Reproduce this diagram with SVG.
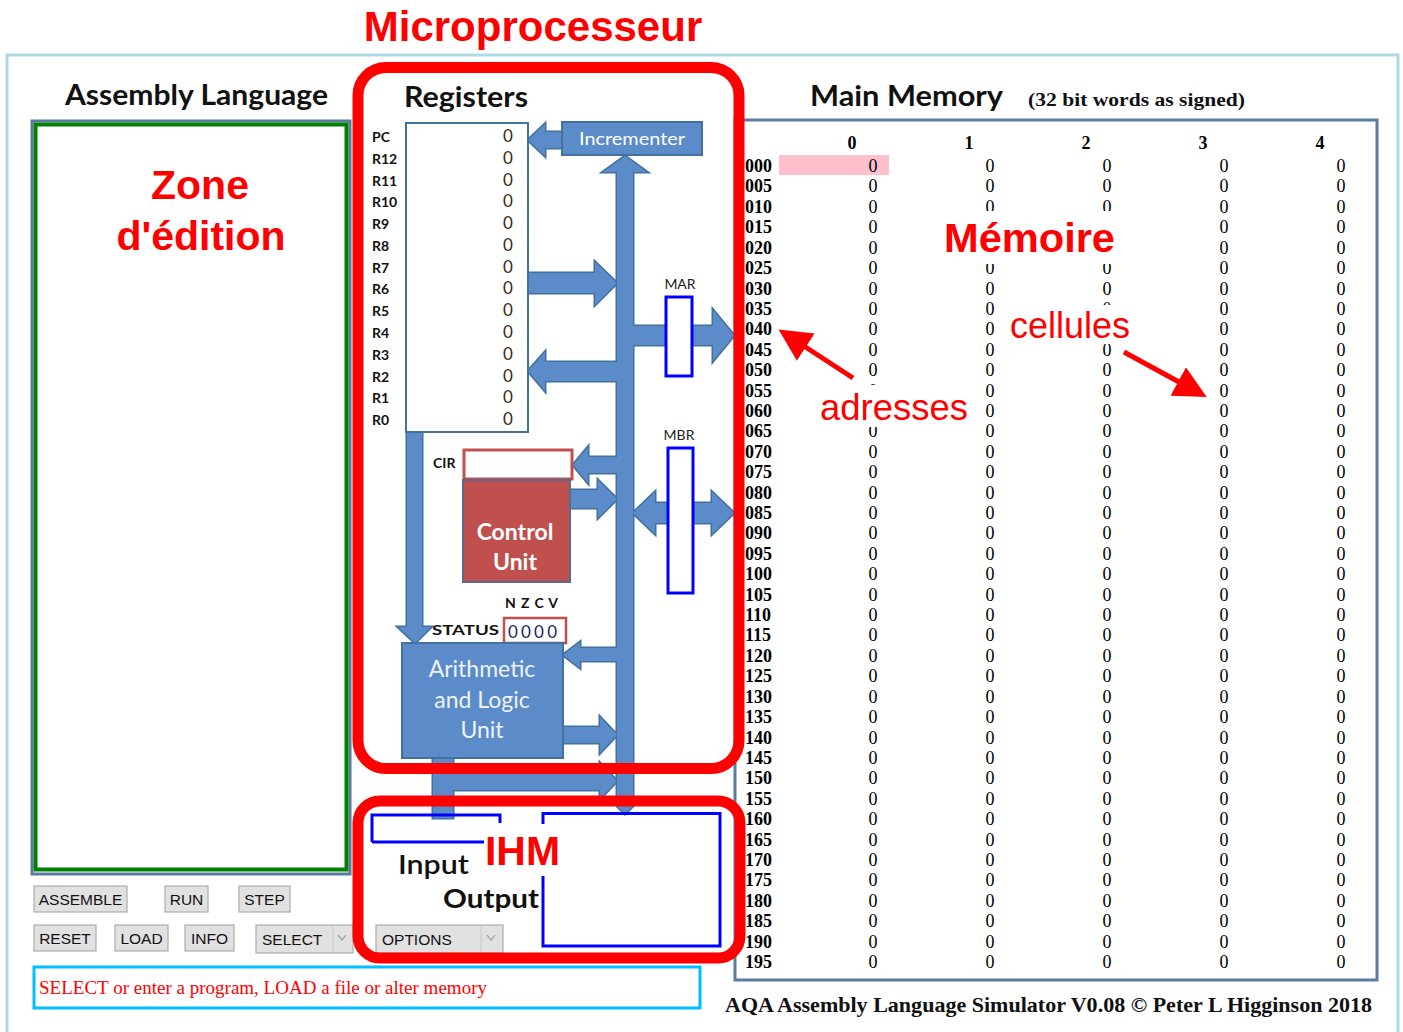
<svg xmlns="http://www.w3.org/2000/svg" xmlns:xlink="http://www.w3.org/1999/xlink" width="1403" height="1032" viewBox="0 0 1403 1032">
<style>
.ui{font-family:Lato,"Open Sans","Liberation Sans",sans-serif}
.h{font-family:Lato,"Open Sans","Liberation Sans",sans-serif;font-weight:700;font-size:28px;fill:#111}
.red{font-family:"Liberation Sans",Arial,sans-serif;fill:#ff0000}
.rl{font-family:Lato,"Liberation Sans",sans-serif;font-weight:700;font-size:14px;fill:#111}
.rv{font-family:Lato,"Liberation Sans",sans-serif;font-size:17px;fill:#3a2a10;text-anchor:middle}
.a{font-family:"Liberation Serif","Times New Roman",serif;font-weight:700;font-size:18px;fill:#000}
.v{font-family:"Liberation Serif","Times New Roman",serif;font-size:18px;fill:#000;text-anchor:middle}
.btn{fill:#e1e1e1;stroke:#adadad;stroke-width:1.2}
.bt{font-family:"Liberation Sans",Arial,sans-serif;font-size:15.5px;fill:#111}
.bluebox{fill:#5b8bc9;stroke:#41719c;stroke-width:2}
.mbox{fill:#fff;stroke:#0000ff;stroke-width:3}
.redrect{fill:none;stroke:#ff0000;stroke-width:11}
.arr{stroke:#ff0000;stroke-width:5;fill:none}
</style>
<defs>
<g id="busShapes">
<polygon points="617,806 617,172 603,172 625,156 647,172 633,172 633,806 625,814"/>
<polygon points="528,273 595,273 595,262 617,283 595,305 595,293 528,293"/>
<polygon points="633,326 713,326 713,310 734,335.5 713,361 713,345 633,345"/>
<polygon points="617,362 545,362 545,352 528,371 545,391 545,381 617,381"/>
<polygon points="562,132 545,132 545,124 528,140 545,156 545,148 562,148"/>
<polygon points="617,457 588,457 588,447 573,465 588,483 588,473 617,473"/>
<polygon points="570,490 598,490 598,480 617,499 598,518 598,508 570,508"/>
<polygon points="633,513 655,492 655,503 712,503 712,492 734,513 712,534 712,523 655,523 655,534"/>
<polygon points="407,432 422,432 422,627 431,627 415,643 398,627 407,627"/>
<polygon points="617,648 580,648 580,642 563,655 580,668 580,661 617,661"/>
<polygon points="563,727 600,727 600,717 617,735 600,753 600,743 563,743"/>
<polygon points="433,757 453,757 453,773 600,773 600,763 617,781 600,799 600,790 453,790 453,818 433,818"/>
</g>
<marker id="rh" viewBox="0 0 10 10" refX="8" refY="5" markerWidth="6.5" markerHeight="6.5" orient="auto" markerUnits="strokeWidth">
<path d="M0,0 L10,5 L0,10 z" fill="#ff0000"/>
</marker>
</defs>

<rect x="0" y="0" width="1403" height="1032" fill="#fff"/>
<rect x="7" y="55" width="1391" height="1000" fill="none" stroke="#add8e6" stroke-width="3"/>

<!-- Titles -->
<text class="red" x="533" y="41" font-size="42" font-weight="700" text-anchor="middle">Microprocesseur</text>
<text class="h" x="65" y="105" textLength="263" lengthAdjust="spacingAndGlyphs">Assembly Language</text>
<text class="h" x="404" y="107" textLength="124" lengthAdjust="spacingAndGlyphs">Registers</text>
<text class="h" x="810" y="106" textLength="193" lengthAdjust="spacingAndGlyphs">Main Memory</text>
<text x="1028" y="106" font-family="Liberation Serif,serif" font-weight="700" font-size="19" fill="#111" textLength="217" lengthAdjust="spacingAndGlyphs">(32 bit words as signed)</text>

<!-- Editor -->
<g id="editor">
<rect x="32" y="121" width="318" height="753" fill="#fff" stroke="#5b7aa0" stroke-width="3"/>
<rect x="35.5" y="124.5" width="311" height="745" fill="#fff" stroke="#008000" stroke-width="4"/>
<text class="red" x="200" y="199" font-size="41" font-weight="700" text-anchor="middle">Zone</text>
<text class="red" x="201" y="250" font-size="41" font-weight="700" text-anchor="middle">d'édition</text>
</g>

<!-- Buttons -->
<g id="buttons">
<rect class="btn" x="34" y="886" width="93" height="26"/><text class="bt" x="80.5" y="905" text-anchor="middle">ASSEMBLE</text>
<rect class="btn" x="165" y="886" width="43" height="26"/><text class="bt" x="186.5" y="905" text-anchor="middle">RUN</text>
<rect class="btn" x="239" y="886" width="51" height="26"/><text class="bt" x="264.5" y="905" text-anchor="middle">STEP</text>
<rect class="btn" x="34" y="925" width="62" height="26"/><text class="bt" x="65" y="944" text-anchor="middle">RESET</text>
<rect class="btn" x="115" y="925" width="53" height="26"/><text class="bt" x="141.5" y="944" text-anchor="middle">LOAD</text>
<rect class="btn" x="185" y="925" width="49" height="26"/><text class="bt" x="209.5" y="944" text-anchor="middle">INFO</text>
<rect class="btn" x="256" y="925" width="97" height="28"/><line x1="333" y1="926" x2="333" y2="952" stroke="#c8c8c8"/>
<text class="bt" x="262" y="945">SELECT</text>
<path d="M338,935 L342,940 L346,935" fill="none" stroke="#999" stroke-width="1.2"/>
<rect class="btn" x="376" y="925" width="127" height="28"/><line x1="481" y1="926" x2="481" y2="952" stroke="#c8c8c8"/>
<text class="bt" x="382" y="945">OPTIONS</text>
<path d="M487,935 L491,940 L495,935" fill="none" stroke="#999" stroke-width="1.2"/>
</g>

<!-- Status message -->
<g id="message">
<rect x="34" y="967" width="666" height="41" fill="#fff" stroke="#00bfff" stroke-width="3"/>
<text x="39" y="994" font-family="Liberation Serif,serif" font-size="19" fill="#ff0000" textLength="448" lengthAdjust="spacingAndGlyphs">SELECT or enter a program, LOAD a file or alter memory</text>
</g>

<!-- Memory -->
<g id="memory">
<rect x="735" y="120" width="642" height="860" fill="#fff" stroke="#5b7aa0" stroke-width="3"/>
<rect x="779" y="155" width="110" height="20" fill="#ffc0cb"/>
<text class="a" text-anchor="middle" x="852 969 1086 1203 1320" y="149">01234</text>
<text class="a" x="745" y="172">000</text><text class="v" x="873 990 1107 1224 1341" y="172">00000</text>
<text class="a" x="745" y="192.4">005</text><text class="v" x="873 990 1107 1224 1341" y="192.4">00000</text>
<text class="a" x="745" y="212.8">010</text><text class="v" x="873 990 1107 1224 1341" y="212.8">00000</text>
<text class="a" x="745" y="233.2">015</text><text class="v" x="873 1224 1341" y="233.2">000</text>
<text class="a" x="745" y="253.6">020</text><text class="v" x="873 1224 1341" y="253.6">000</text>
<text class="a" x="745" y="274.1">025</text><text class="v" x="873 990 1107 1224 1341" y="274.1">00000</text>
<text class="a" x="745" y="294.5">030</text><text class="v" x="873 990 1107 1224 1341" y="294.5">00000</text>
<text class="a" x="745" y="314.9">035</text><text class="v" x="873 990 1107 1224 1341" y="314.9">00000</text>
<text class="a" x="745" y="335.3">040</text><text class="v" x="873 990 1224 1341" y="335.3">0000</text>
<text class="a" x="745" y="355.7">045</text><text class="v" x="873 990 1107 1224 1341" y="355.7">00000</text>
<text class="a" x="745" y="376.1">050</text><text class="v" x="873 990 1107 1224 1341" y="376.1">00000</text>
<text class="a" x="745" y="396.5">055</text><text class="v" x="873 990 1107 1224 1341" y="396.5">00000</text>
<text class="a" x="745" y="416.9">060</text><text class="v" x="990 1107 1224 1341" y="416.9">0000</text>
<text class="a" x="745" y="437.3">065</text><text class="v" x="873 990 1107 1224 1341" y="437.3">00000</text>
<text class="a" x="745" y="457.7">070</text><text class="v" x="873 990 1107 1224 1341" y="457.7">00000</text>
<text class="a" x="745" y="478.2">075</text><text class="v" x="873 990 1107 1224 1341" y="478.2">00000</text>
<text class="a" x="745" y="498.6">080</text><text class="v" x="873 990 1107 1224 1341" y="498.6">00000</text>
<text class="a" x="745" y="519">085</text><text class="v" x="873 990 1107 1224 1341" y="519">00000</text>
<text class="a" x="745" y="539.4">090</text><text class="v" x="873 990 1107 1224 1341" y="539.4">00000</text>
<text class="a" x="745" y="559.8">095</text><text class="v" x="873 990 1107 1224 1341" y="559.8">00000</text>
<text class="a" x="745" y="580.2">100</text><text class="v" x="873 990 1107 1224 1341" y="580.2">00000</text>
<text class="a" x="745" y="600.6">105</text><text class="v" x="873 990 1107 1224 1341" y="600.6">00000</text>
<text class="a" x="745" y="621">110</text><text class="v" x="873 990 1107 1224 1341" y="621">00000</text>
<text class="a" x="745" y="641.4">115</text><text class="v" x="873 990 1107 1224 1341" y="641.4">00000</text>
<text class="a" x="745" y="661.8">120</text><text class="v" x="873 990 1107 1224 1341" y="661.8">00000</text>
<text class="a" x="745" y="682.3">125</text><text class="v" x="873 990 1107 1224 1341" y="682.3">00000</text>
<text class="a" x="745" y="702.7">130</text><text class="v" x="873 990 1107 1224 1341" y="702.7">00000</text>
<text class="a" x="745" y="723.1">135</text><text class="v" x="873 990 1107 1224 1341" y="723.1">00000</text>
<text class="a" x="745" y="743.5">140</text><text class="v" x="873 990 1107 1224 1341" y="743.5">00000</text>
<text class="a" x="745" y="763.9">145</text><text class="v" x="873 990 1107 1224 1341" y="763.9">00000</text>
<text class="a" x="745" y="784.3">150</text><text class="v" x="873 990 1107 1224 1341" y="784.3">00000</text>
<text class="a" x="745" y="804.7">155</text><text class="v" x="873 990 1107 1224 1341" y="804.7">00000</text>
<text class="a" x="745" y="825.1">160</text><text class="v" x="873 990 1107 1224 1341" y="825.1">00000</text>
<text class="a" x="745" y="845.5">165</text><text class="v" x="873 990 1107 1224 1341" y="845.5">00000</text>
<text class="a" x="745" y="865.9">170</text><text class="v" x="873 990 1107 1224 1341" y="865.9">00000</text>
<text class="a" x="745" y="886.4">175</text><text class="v" x="873 990 1107 1224 1341" y="886.4">00000</text>
<text class="a" x="745" y="906.8">180</text><text class="v" x="873 990 1107 1224 1341" y="906.8">00000</text>
<text class="a" x="745" y="927.2">185</text><text class="v" x="873 990 1107 1224 1341" y="927.2">00000</text>
<text class="a" x="745" y="947.6">190</text><text class="v" x="873 990 1107 1224 1341" y="947.6">00000</text>
<text class="a" x="745" y="968">195</text><text class="v" x="873 990 1107 1224 1341" y="968">00000</text>
</g>
<text x="725" y="1012" font-family="Liberation Serif,serif" font-weight="700" font-size="21" fill="#111" textLength="647" lengthAdjust="spacingAndGlyphs">AQA Assembly Language Simulator V0.08  © Peter L Higginson 2018</text>

<!-- Memory annotations -->
<g id="annotations">
<rect x="936" y="211" width="184" height="53" fill="#fff"/>
<text class="red" x="944" y="252" font-size="41" font-weight="700" textLength="171" lengthAdjust="spacingAndGlyphs">Mémoire</text>
<rect x="1004" y="305" width="132" height="39" fill="#fff"/>
<text class="red" x="1010" y="338" font-size="36" textLength="120" lengthAdjust="spacingAndGlyphs">cellules</text>
<rect x="814" y="385" width="159" height="42" fill="#fff"/>
<text class="red" x="820" y="420" font-size="36" textLength="148" lengthAdjust="spacingAndGlyphs">adresses</text>
</g>
<g id="connectors-annot">
<line class="arr" x1="853" y1="378" x2="784" y2="333" marker-end="url(#rh)"/>
<line class="arr" x1="1124" y1="352" x2="1201" y2="394" marker-end="url(#rh)"/>
</g>

<!-- CPU bus connectors -->
<g id="connectors">
<use xlink:href="#busShapes" href="#busShapes" fill="#5b8bc9" stroke="#41719c" stroke-width="3" stroke-linejoin="miter"/>
<use xlink:href="#busShapes" href="#busShapes" fill="#5b8bc9" stroke="none"/>
</g>

<!-- Registers -->
<g id="registers">
<rect x="406" y="123" width="122" height="309" fill="#fff" stroke="#41719c" stroke-width="2"/>
<text class="rl" x="372" y="142">PC</text><text class="rv" x="508" y="142">0</text>
<text class="rl" x="372" y="163.8">R12</text><text class="rv" x="508" y="163.8">0</text>
<text class="rl" x="372" y="185.5">R11</text><text class="rv" x="508" y="185.5">0</text>
<text class="rl" x="372" y="207.3">R10</text><text class="rv" x="508" y="207.3">0</text>
<text class="rl" x="372" y="229.1">R9</text><text class="rv" x="508" y="229.1">0</text>
<text class="rl" x="372" y="250.9">R8</text><text class="rv" x="508" y="250.9">0</text>
<text class="rl" x="372" y="272.6">R7</text><text class="rv" x="508" y="272.6">0</text>
<text class="rl" x="372" y="294.4">R6</text><text class="rv" x="508" y="294.4">0</text>
<text class="rl" x="372" y="316.2">R5</text><text class="rv" x="508" y="316.2">0</text>
<text class="rl" x="372" y="337.9">R4</text><text class="rv" x="508" y="337.9">0</text>
<text class="rl" x="372" y="359.7">R3</text><text class="rv" x="508" y="359.7">0</text>
<text class="rl" x="372" y="381.5">R2</text><text class="rv" x="508" y="381.5">0</text>
<text class="rl" x="372" y="403.2">R1</text><text class="rv" x="508" y="403.2">0</text>
<text class="rl" x="372" y="425">R0</text><text class="rv" x="508" y="425">0</text>
</g>

<g id="incrementer">
<rect class="bluebox" x="562" y="122" width="140" height="33"/>
<text class="ui" x="632" y="145" font-size="18" fill="#fff" text-anchor="middle" textLength="106" lengthAdjust="spacingAndGlyphs">Incrementer</text>
</g>

<g id="mar">
<text class="ui" x="680" y="289" font-size="14" fill="#222" text-anchor="middle">MAR</text>
<rect class="mbox" x="666" y="297" width="26" height="79"/>
</g>
<g id="mbr">
<text class="ui" x="679" y="440" font-size="14" fill="#222" text-anchor="middle">MBR</text>
<rect class="mbox" x="668" y="448" width="25" height="145"/>
</g>

<g id="cir">
<text class="rl" x="433" y="468">CIR</text>
<rect x="464" y="450" width="108" height="29" fill="#fff" stroke="#c0504d" stroke-width="3"/>
</g>
<g id="control-unit">
<rect x="463" y="480" width="107" height="102" fill="#c0504d" stroke="#5a6a8c" stroke-width="2"/>
<text class="ui" x="515" y="540" font-size="23" font-weight="700" fill="#fff" text-anchor="middle">Control</text>
<text class="ui" x="515" y="570" font-size="23" font-weight="700" fill="#fff" text-anchor="middle">Unit</text>
</g>

<g id="status">
<text class="rl" x="505" y="608" font-size="13" textLength="53" lengthAdjust="spacing">N Z C V</text>
<text class="rl" x="432" y="635" font-size="17" textLength="67" lengthAdjust="spacingAndGlyphs">STATUS</text>
<rect x="504" y="618" width="62" height="25" fill="#fff" stroke="#c0504d" stroke-width="2.5"/>
<text class="ui" x="508" y="638" font-size="17" fill="#1a2a5a" textLength="49" lengthAdjust="spacing">0 0 0 0</text>
</g>

<g id="alu">
<rect class="bluebox" x="402" y="643" width="161" height="115"/>
<text class="ui" x="482" y="677" font-size="23" fill="#eef3fb" text-anchor="middle">Arithmetic</text>
<text class="ui" x="482" y="708" font-size="23" fill="#eef3fb" text-anchor="middle">and Logic</text>
<text class="ui" x="482" y="738" font-size="23" fill="#eef3fb" text-anchor="middle">Unit</text>
</g>

<!-- IO -->
<g id="io">
<path d="M372,842 L372,815 L500,815 L500,823" fill="none" stroke="#0000ff" stroke-width="3"/>
<line x1="372" y1="842" x2="484" y2="842" stroke="#0000ff" stroke-width="3"/>
<path d="M543,824 L543,813.5 L720,813.5 L720,946 L543,946 L543,876" fill="none" stroke="#0000ff" stroke-width="3"/>
<rect x="484" y="824" width="78" height="52" fill="#fff"/>
<text class="red" x="485" y="865" font-size="41" font-weight="700" textLength="75" lengthAdjust="spacingAndGlyphs">IHM</text>
<text class="ui" x="398" y="874" font-size="26" font-weight="600" fill="#111" textLength="71" lengthAdjust="spacingAndGlyphs">Input</text>
<text class="ui" x="443" y="908" font-size="26" font-weight="700" fill="#111" textLength="96" lengthAdjust="spacingAndGlyphs">Output</text>
</g>

<!-- Red highlight frames -->
<rect class="redrect" x="358" y="67.5" width="381" height="701" rx="28"/>
<rect class="redrect" x="358" y="801" width="382" height="157" rx="22"/>
</svg>
